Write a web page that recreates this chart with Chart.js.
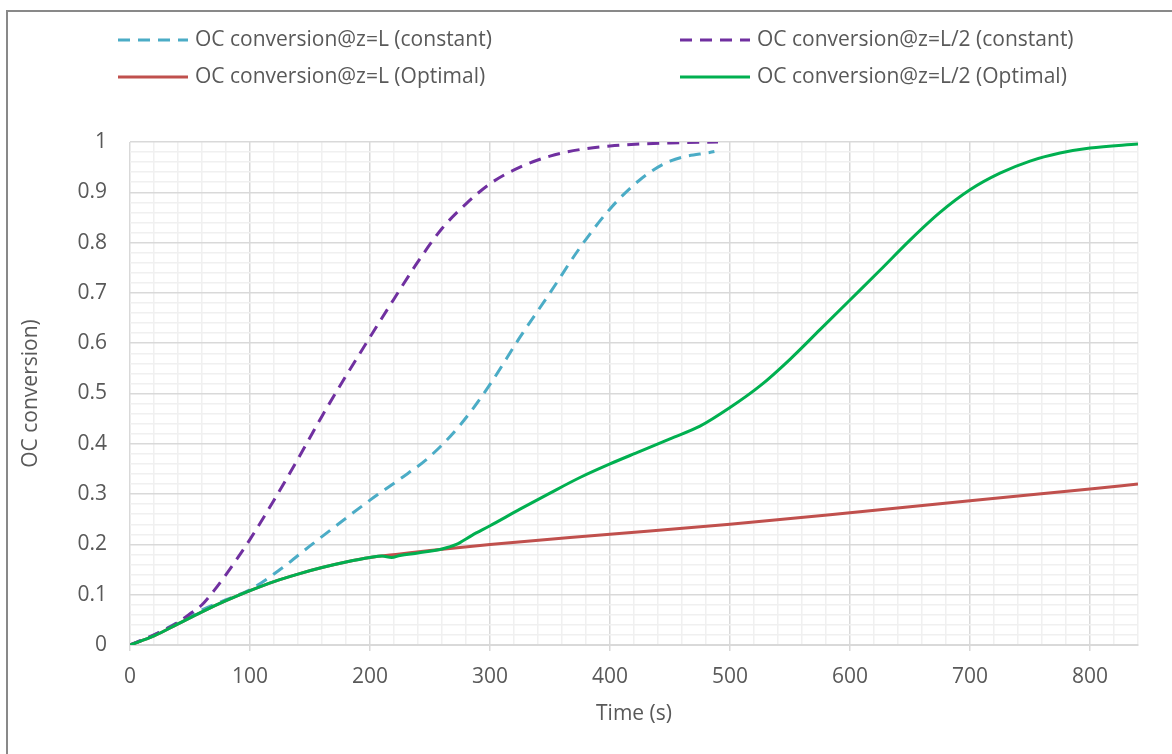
<!DOCTYPE html>
<html>
<head>
<meta charset="utf-8">
<title>OC conversion</title>
<script src="https://cdn.jsdelivr.net/npm/chart.js@4.4.1/dist/chart.umd.min.js"></script>
<style>
    html, body { margin: 0; padding: 0; background: #fff; }
    #wrap { width: 1172px; height: 754px; position: relative; }
</style>
</head>
<body>
<div id="wrap"><canvas id="oc-chart"></canvas></div>
<script>
// Time points (s) and conversion values for each run
const timeLConst = [0, 20, 40, 60, 80, 100, 125, 150, 175, 200, 225, 250, 275, 300, 325, 350, 375, 400, 425, 450, 487];
const convLConst = [0, 0.02, 0.045, 0.07, 0.09, 0.11, 0.15, 0.197, 0.243, 0.288, 0.33, 0.375, 0.437, 0.518, 0.612, 0.70, 0.79, 0.867, 0.925, 0.962, 0.981];

const timeHalfConst = [0, 20, 40, 50, 60, 70, 80, 100, 120, 140, 160, 180, 200, 220, 240, 260, 280, 300, 325, 350, 375, 400, 425, 450, 490];
const convHalfConst = [0, 0.02, 0.045, 0.062, 0.08, 0.108, 0.14, 0.21, 0.288, 0.37, 0.455, 0.535, 0.612, 0.688, 0.762, 0.828, 0.877, 0.917, 0.95, 0.972, 0.985, 0.992, 0.996, 0.998, 1.0];

const timeLOpt = [0, 20, 40, 60, 80, 100, 120, 140, 160, 180, 200, 225, 250, 300, 400, 500, 600, 700, 800, 840];
const convLOpt = [0, 0.018, 0.042, 0.066, 0.088, 0.108, 0.126, 0.141, 0.154, 0.165, 0.174, 0.181, 0.188, 0.2, 0.22, 0.24, 0.263, 0.287, 0.31, 0.32];

const timeHalfOpt = [0, 20, 40, 60, 80, 100, 120, 140, 160, 180, 200, 210, 218, 225, 240, 260, 272, 285, 300, 325, 350, 375, 400, 425, 450, 475, 500, 525, 550, 575, 600, 625, 650, 675, 700, 725, 750, 775, 800, 840];
const convHalfOpt = [0, 0.018, 0.042, 0.066, 0.088, 0.108, 0.126, 0.141, 0.154, 0.165, 0.174, 0.177, 0.174, 0.178, 0.183, 0.191, 0.2, 0.218, 0.237, 0.27, 0.302, 0.333, 0.36, 0.385, 0.41, 0.435, 0.472, 0.515, 0.568, 0.627, 0.686, 0.745, 0.805, 0.86, 0.905, 0.938, 0.962, 0.978, 0.988, 0.996];

const seriesNames = [
    "OC conversion@z=L (constant)",
    "OC conversion@z=L/2 (constant)",
    "OC conversion@z=L (Optimal)",
    "OC conversion@z=L/2 (Optimal)"
];

const textColor = "#595959";
const fontFamily = "'Open Sans', sans-serif";
const fontSize = 21;

const toPoints = (times, values) => times.map((t, i) => ({ x: t, y: values[i] }));

const lineBase = {
    pointRadius: 0,
    borderWidth: 3,
    fill: false,
    cubicInterpolationMode: "monotone"
};

const datasets = [
    { ...lineBase, label: seriesNames[0], data: toPoints(timeLConst, convLConst), borderColor: "#4bacc6", borderDash: [12, 8], order: 4 },
    { ...lineBase, label: seriesNames[1], data: toPoints(timeHalfConst, convHalfConst), borderColor: "#7030a0", borderDash: [12, 8], order: 3 },
    { ...lineBase, label: seriesNames[2], data: toPoints(timeLOpt, convLOpt), borderColor: "#c0504d", order: 2 },
    { ...lineBase, label: seriesNames[3], data: toPoints(timeHalfOpt, convHalfOpt), borderColor: "#00b050", order: 1 }
];

// Outer frame and two-column legend, drawn straight on the canvas
const framePlugin = {
    id: "frame",
    beforeDraw(chart) {
        const ctx = chart.ctx;
        ctx.save();
        ctx.fillStyle = "#ffffff";
        ctx.fillRect(0, 0, chart.width, chart.height);
        ctx.strokeStyle = "#898989";
        ctx.lineWidth = 2;
        ctx.strokeRect(7, 11, chart.width + 20, chart.height + 20);
        ctx.restore();
    },
    afterDraw(chart) {
        const ctx = chart.ctx;
        const slots = [
            { ds: 0, x: 118, y: 40 },
            { ds: 1, x: 680, y: 40 },
            { ds: 2, x: 118, y: 77 },
            { ds: 3, x: 680, y: 77 }
        ];
        ctx.save();
        ctx.font = fontSize + "px " + fontFamily;
        ctx.textBaseline = "middle";
        ctx.fillStyle = textColor;
        slots.forEach(s => {
            const ds = chart.data.datasets[s.ds];
            ctx.beginPath();
            ctx.strokeStyle = ds.borderColor;
            ctx.lineWidth = 3;
            ctx.setLineDash(ds.borderDash || []);
            ctx.moveTo(s.x, s.y);
            ctx.lineTo(s.x + 70, s.y);
            ctx.stroke();
            ctx.setLineDash([]);
            ctx.fillText(ds.label, s.x + 77, s.y);
        });
        ctx.restore();
    }
};

const isMajorX = v => Math.round(v) % 100 === 0;
const isMajorY = v => Math.round(v * 100) % 10 === 0;

new Chart(document.getElementById("oc-chart").getContext("2d"), {
    type: "line",
    data: { datasets },
    options: {
        responsive: true,
        maintainAspectRatio: false,
        animation: false,
        layout: { padding: { top: 142, right: 34, bottom: 0, left: 0 } },
        plugins: {
            legend: { display: false },
            tooltip: { enabled: false }
        },
        scales: {
            x: {
                type: "linear",
                min: 0,
                max: 840,
                afterFit: scale => { scale.height = 109; },
                ticks: {
                    stepSize: 20,
                    autoSkip: false,
                    maxRotation: 0,
                    padding: 13,
                    color: textColor,
                    font: { family: fontFamily, size: fontSize },
                    callback: v => (isMajorX(v) ? v : "")
                },
                grid: {
                    color: c => (c.tick && isMajorX(c.tick.value) ? "#d9d9d9" : "#f0f0f0"),
                    lineWidth: 1.5,
                    tickLength: 6,
                    tickColor: c => (c.tick && isMajorX(c.tick.value) ? "#d9d9d9" : "rgba(0,0,0,0)")
                },
                border: { color: "#d9d9d9", width: 2 },
                title: {
                    display: true,
                    text: "Time (s)",
                    color: textColor,
                    font: { family: fontFamily, size: fontSize },
                    padding: { top: 0, bottom: 27 }
                }
            },
            y: {
                min: 0,
                max: 1,
                afterFit: scale => { scale.width = 130; },
                ticks: {
                    stepSize: 0.02,
                    autoSkip: false,
                    padding: 23,
                    color: textColor,
                    font: { family: fontFamily, size: fontSize },
                    callback: v => (isMajorY(v) ? String(Math.round(v * 10) / 10) : "")
                },
                grid: {
                    color: c => (c.tick && isMajorY(c.tick.value) ? "#d9d9d9" : "#f0f0f0"),
                    lineWidth: 1.5,
                    drawTicks: false
                },
                border: { display: false },
                title: {
                    display: true,
                    text: "OC conversion)",
                    color: textColor,
                    font: { family: fontFamily, size: fontSize },
                    padding: { top: 18, bottom: 0 }
                }
            }
        }
    },
    plugins: [framePlugin]
});
</script>
</body>
</html>
